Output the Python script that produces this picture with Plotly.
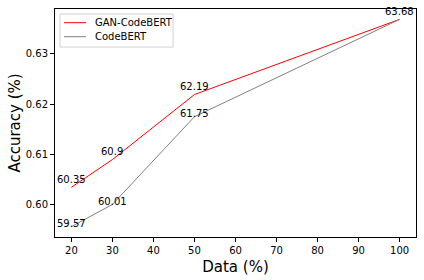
import plotly.graph_objects as go

data_pct = [20, 30, 50, 100]
gan_codebert = [0.6035, 0.609, 0.6219, 0.6368]
codebert = [0.5957, 0.6001, 0.6175, 0.6368]
gan_labels = ["60.35", "60.9", "62.19", "63.68"]
cb_labels = ["59.57", "60.01", "61.75", ""]
series_names = ["GAN-CodeBERT", "CodeBERT"]
series_colors = ["red", "gray"]

FONT = "DejaVu Sans"

fig = go.Figure()
fig.add_trace(go.Scatter(x=data_pct, y=gan_codebert, mode="lines", name=series_names[0],
                         line=dict(color=series_colors[0], width=1), showlegend=False))
fig.add_trace(go.Scatter(x=data_pct, y=codebert, mode="lines", name=series_names[1],
                         line=dict(color=series_colors[1], width=1), showlegend=False))

for x, y, t in zip(data_pct, gan_codebert, gan_labels):
    if t:
        fig.add_annotation(x=x, y=y, text=t, showarrow=False, yshift=8,
                           font=dict(family=FONT, size=10, color="black"))
for x, y, t in zip(data_pct, codebert, cb_labels):
    if t:
        fig.add_annotation(x=x, y=y, text=t, showarrow=False, yshift=3,
                           font=dict(family=FONT, size=10, color="black"))

# legend box drawn in paper coordinates (matplotlib-like compact legend)
fig.add_shape(type="rect", xref="paper", yref="paper", x0=0.0139, x1=0.327, y0=0.833, y1=0.978,
              line=dict(color="#d0d0d0", width=1), fillcolor="rgba(255,255,255,0.8)")
for i, (name, col) in enumerate(zip(series_names, series_colors)):
    yy = 0.940 - i * 0.0615
    fig.add_shape(type="line", xref="paper", yref="paper", x0=0.0249, x1=0.0859, y0=yy, y1=yy,
                  line=dict(color=col, width=1))
    fig.add_annotation(xref="paper", yref="paper", x=0.105, y=yy, text=name, showarrow=False,
                       xanchor="left", yanchor="middle",
                       font=dict(family=FONT, size=10, color="black"))

axis_common = dict(showgrid=False, zeroline=False, showline=True, linecolor="black",
                   linewidth=1, mirror=True, ticks="outside", ticklen=4, tickwidth=1,
                   tickcolor="black", tickfont=dict(family=FONT, size=10, color="black"))

fig.update_xaxes(range=[16, 104], tickmode="array", tickvals=[20, 30, 40, 50, 60, 70, 80, 90, 100],
                 title=dict(text="Data (%)", font=dict(family=FONT, size=15, color="black"), standoff=6),
                 **axis_common)
fig.update_yaxes(range=[0.593645, 0.638855], tickmode="array", tickvals=[0.60, 0.61, 0.62, 0.63],
                 tickformat=".2f",
                 title=dict(text="Accuracy (%)", font=dict(family=FONT, size=15, color="black"), standoff=1),
                 **axis_common)

fig.update_layout(
    width=424, height=280,
    margin=dict(l=55, r=8, t=9, b=43),
    plot_bgcolor="white", paper_bgcolor="white",
    font=dict(family=FONT, size=10, color="black"),
    showlegend=False,
)

fig.write_html("out.html")
